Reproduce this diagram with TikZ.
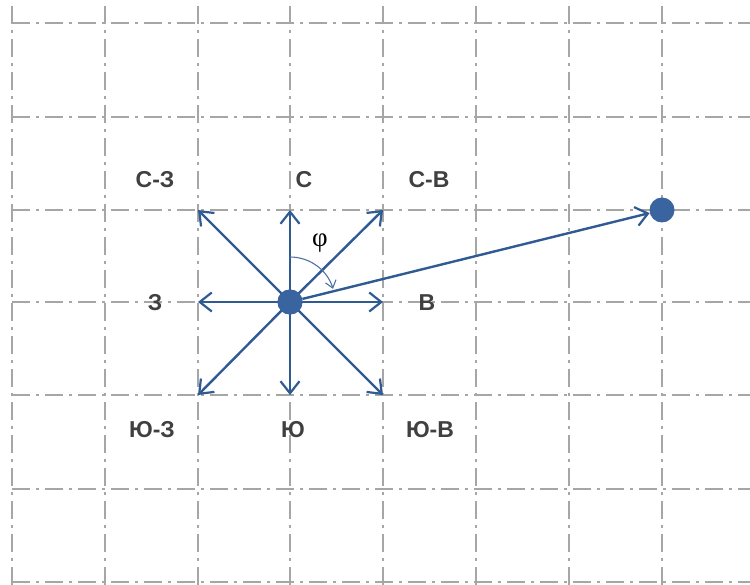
\documentclass[tikz,border=0pt]{standalone}
\usepackage{fontspec}
\setmainfont{Liberation Sans}
\newfontfamily\phifont{Liberation Serif}
\usetikzlibrary{arrows.meta}
\definecolor{gridgray}{HTML}{A6A6A6}
\definecolor{arrowblue}{HTML}{2F5A92}
\definecolor{dotblue}{HTML}{3A64A0}
\definecolor{txtgray}{HTML}{404040}
\tikzset{
  gridline/.style={draw=gridgray, line width=1.3pt, dash pattern=on 18pt off 6pt on 3pt off 6pt},
  ray/.style={draw=arrowblue, line width=2.4pt, -{Straight Barb[length=12pt,width=19pt,line width=2.2pt]}},
  dot/.style={circle, fill=dotblue, inner sep=0pt, minimum size=25pt},
  lbl/.style={text=txtgray, font=\fontsize{23}{26}\selectfont\bfseries, inner sep=0pt},
  anglearc/.style={draw=arrowblue!85, line width=1.1pt, -{Straight Barb[length=7pt,width=11pt,line width=1.1pt]}}
}
\begin{document}
\begin{tikzpicture}[x=1pt,y=1pt]
\useasboundingbox (0,0) rectangle (750,-585);
% grid
\foreach \x in {12,105,198,290,383,476,569,662} {
  \draw[gridline] (\x,-6) -- (\x,-585);
}
\foreach \y in {23,117,210,302,395,489,582} {
  \draw[gridline] (12,-\y) -- (750,-\y);
}
% points
\coordinate (n) at (290,-210);
\coordinate (s) at (290,-395);
\coordinate (e) at (383,-302);
\coordinate (w) at (198,-302);
\coordinate (ne) at (383,-210);
\coordinate (nw) at (198,-210);
\coordinate (se) at (383,-395);
\coordinate (sw) at (198,-395);
\node[dot] (c) at (290,-302) {};
\node[dot] (t) at (662,-210) {};
% rays
\foreach \p in {n,s,e,w,ne,nw,se,sw} {
  \draw[ray] (c.center) -- (\p);
}
\draw[ray] (c) -- (t);
\node[dot] at (c.center) {};
% angle
\draw[anglearc] (c.center) ++(90:45) arc[start angle=90, end angle=17, radius=45];
\node[text=black, inner sep=0pt, font=\fontsize{27}{30}\selectfont\phifont] (phi) at (320,-243) {φ};
% labels
\node[lbl] (lnw) at (155,-180) {С-З};
\node[lbl] (ln) at (304,-180) {С};
\node[lbl] (lne) at (429,-180) {С-В};
\node[lbl] (lw) at (155,-303) {З};
\node[lbl] (le) at (427,-303) {В};
\node[lbl] (lsw) at (152,-430) {Ю-З};
\node[lbl] (ls) at (293,-430) {Ю};
\node[lbl] (lse) at (430,-430) {Ю-В};
\end{tikzpicture}
\end{document}
